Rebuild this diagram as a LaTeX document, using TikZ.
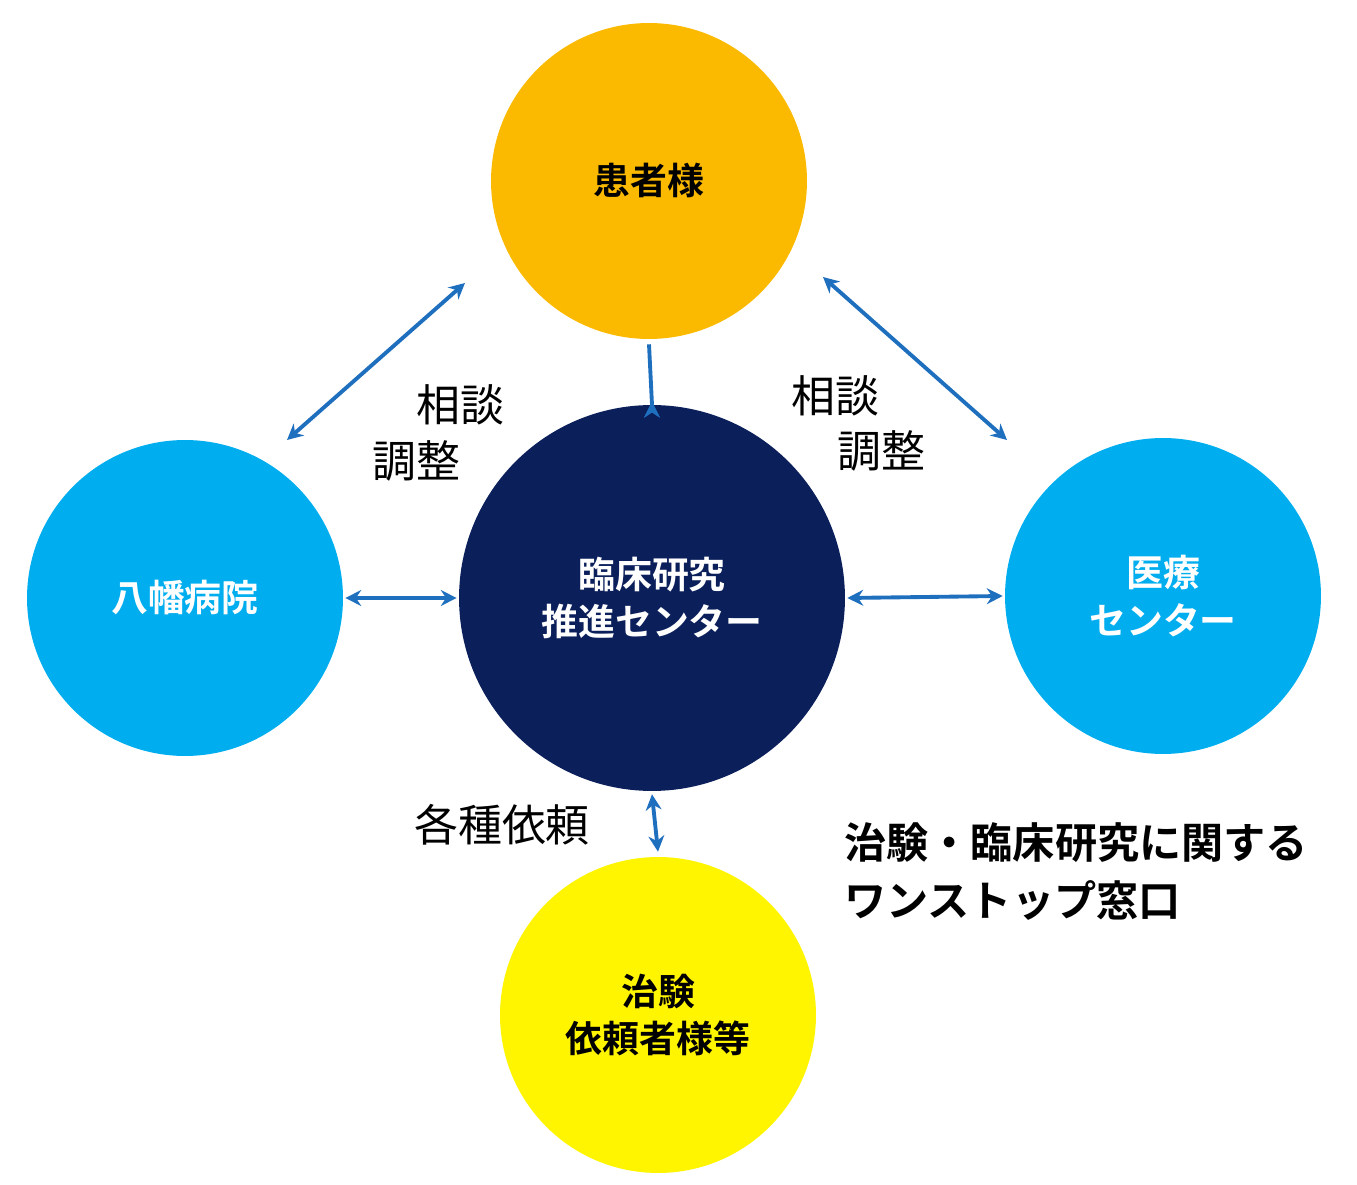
\documentclass[tikz,border=0pt]{standalone}
\usepackage{fontspec}
\setmainfont{Noto Sans CJK JP}
\newfontfamily\cjkbold{Noto Sans CJK JP Bold}
\usetikzlibrary{arrows.meta,positioning}
\definecolor{sunorange}{HTML}{FBBA00}
\definecolor{centernavy}{HTML}{0B1F5B}
\definecolor{skyblue}{HTML}{00AEEF}
\definecolor{lemon}{HTML}{FFF500}
\definecolor{arrowblue}{HTML}{1F6FBF}
\begin{document}
\begin{tikzpicture}[x=0.02cm,y=-0.02cm,
        party/.style={circle, inner sep=0pt, minimum size=6.32cm, font=\cjkbold\fontsize{21}{27}\selectfont, align=center},
        link/.style={draw=arrowblue, line width=2.2pt, {Stealth[length=9pt,width=9pt]}-{Stealth[length=9pt,width=9pt]}},
        note/.style={font=\fontsize{25}{29}\selectfont, inner sep=0pt}
    ]
    \useasboundingbox (0,0) rectangle (1357,1185);

    % Define circles
    \node[party, fill=sunorange] (P) at (649,181) {患者様};
    \node[party, fill=centernavy, text=white, minimum size=7.72cm] (C) at (652,598) {臨床研究\\推進センター};
    \node[party, fill=skyblue, text=white] (H) at (185,598) {八幡病院};
    \node[party, fill=skyblue, text=white] (M) at (1163,596) {医療\\センター};
    \node[party, fill=lemon] (S) at (658,1015) {治験\\依頼者様等};

    % Arrow end points
    \coordinate (L1) at (465,283);
    \coordinate (L2) at (287,440);
    \coordinate (R1) at (823,277);
    \coordinate (R2) at (1007,440);

    % Connect
    \draw[link] (L1) -- (L2);
    \draw[link] (R1) -- (R2);
    \draw[link] (P.south) ++(0,5) coordinate (T1) -- (C.north) ++(0,-3);
    \draw[link] ([yshift=-0.06cm]C.south) -- ([yshift=0.1cm]S.north);
    \draw[link] ([xshift=0.04cm]H.east) -- ([xshift=-0.04cm]C.west);
    \draw[link] ([xshift=0.04cm]C.east) -- ([xshift=-0.04cm]M.west);

    % Labels
    \node[note] (n1) at (460,405) {相談};
    \node[note] (n2) at (416,461) {調整};
    \node[note] (n3) at (835,396) {相談};
    \node[note] (n4) at (881,451) {調整};
    \node[note] (n5) at (502,825) {各種依頼};
    \node[font=\cjkbold\fontsize{24}{33}\selectfont, align=left, anchor=west] (W) at (838,872) {治験・臨床研究に関する\\ワンストップ窓口};
\end{tikzpicture}
\end{document}
